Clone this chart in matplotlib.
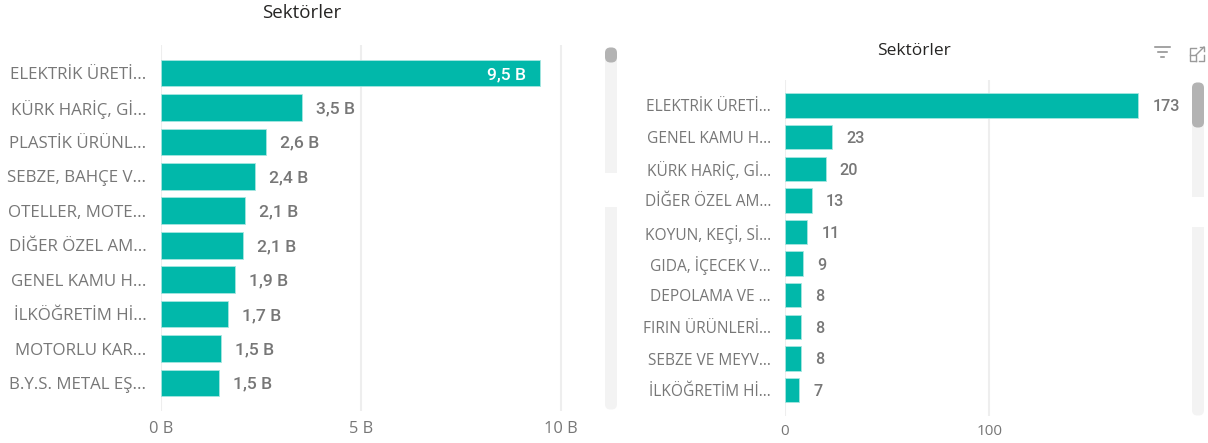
import matplotlib
matplotlib.use('Agg')
import matplotlib.pyplot as plt
from matplotlib.patches import FancyBboxPatch, Rectangle

W, H = 1208, 443
TEAL = '#01b8aa'
GRID = '#eeeeee'
TEXT = '#777777'

left_categories = ['ELEKTRİK ÜRETİ...', 'KÜRK HARİÇ, Gİ...', 'PLASTİK ÜRÜNL...', 'SEBZE, BAHÇE V...',
                   'OTELLER, MOTE...', 'DİĞER ÖZEL AM...', 'GENEL KAMU H...', 'İLKÖĞRETİM Hİ...',
                   'MOTORLU KAR...', 'B.Y.S. METAL EŞ...']
left_values = [9.47, 3.52, 2.63, 2.36, 2.10, 2.06, 1.85, 1.68, 1.51, 1.46]
left_labels = ['9,5 B', '3,5 B', '2,6 B', '2,4 B', '2,1 B', '2,1 B', '1,9 B', '1,7 B', '1,5 B', '1,5 B']
left_ticks = [0, 5, 10]
left_ticklabels = ['0 B', '5 B', '10 B']

right_categories = ['ELEKTRİK ÜRETİ...', 'GENEL KAMU H...', 'KÜRK HARİÇ, Gİ...', 'DİĞER ÖZEL AM...',
                    'KOYUN, KEÇİ, Sİ...', 'GIDA, İÇECEK V...', 'DEPOLAMA VE ...', 'FIRIN ÜRÜNLERİ...',
                    'SEBZE VE MEYV...', 'İLKÖĞRETİM Hİ...']
right_values = [173, 23, 20, 13, 11, 9, 8, 8, 8, 7]
right_ticks = [0, 100]
right_ticklabels = ['0', '100']


def axes_px(fig, x0, y0, x1, y1):
    # pixel box measured from the top left corner
    return fig.add_axes([x0 / W, 1 - y1 / H, (x1 - x0) / W, (y1 - y0) / H])


def bar_panel(ax, categories, values, labels, ticks, ticklabels, xlim, ylim, height,
              cat_size, tick_size, val_size, ypad, xpad, inside=()):
    y = list(range(len(values)))
    ax.barh(y, values, height=height, color=TEAL, edgecolor='#a6e6e0', linewidth=0.6, zorder=3)
    ax.set_xlim(*xlim)
    ax.set_ylim(*ylim)
    ax.set_yticks(y)
    ax.set_yticklabels(categories, fontsize=cat_size, color=TEXT)
    ax.set_xticks(ticks)
    ax.set_xticklabels(ticklabels, fontsize=tick_size, color=TEXT)
    ax.tick_params(axis='both', length=0)
    ax.tick_params(axis='y', pad=ypad)
    ax.tick_params(axis='x', pad=xpad)
    ax.grid(True, axis='x', color=GRID, linewidth=1.5, zorder=0)
    ax.set_axisbelow(True)
    for s in ax.spines.values():
        s.set_visible(False)
    for i, (v, lab) in enumerate(zip(values, labels)):
        if i in inside:
            ax.annotate(lab, (v, i), xytext=(-10, -1), textcoords='offset points', ha='right', va='center',
                        color='white', fontsize=val_size, fontweight='medium', family='Roboto')
        else:
            ax.annotate(lab, (v, i), xytext=(10, -1), textcoords='offset points', ha='left', va='center',
                        color=TEXT, fontsize=val_size, fontweight='medium', family='Roboto')


def pill(over, x0, x1, y0, y1, color):
    r = (x1 - x0) / 2
    over.add_patch(FancyBboxPatch((x0 + r - 0.5, y0 + r), 1, y1 - y0 - 2 * r,
                                  boxstyle=f'round,pad={r - 0.5},rounding_size={r - 0.5}', fc=color, ec='none'))


def scrollbar(over, x0, x1, y0, y1, thumb_y1, gap_y0, gap_y1):
    pill(over, x0, x1, y0, y1, '#f3f3f3')
    over.add_patch(Rectangle((x0, gap_y0), x1 - x0, gap_y1 - gap_y0, fc='white', ec='none'))
    pill(over, x0, x1, y0, thumb_y1, '#b3b3b3')


plt.rcParams['font.family'] = ['Open Sans', 'DejaVu Sans']
fig = plt.figure(figsize=(W / 100, H / 100), dpi=100, facecolor='white')

ax1 = axes_px(fig, 161, 45, 618, 411)
bar_panel(ax1, left_categories, left_values, left_labels, left_ticks, left_ticklabels,
          (0, 457 / 40), (9.813, -0.813), 0.772, 12.2, 11.8, 12.6, 10.5, 7, inside=(0,))

ax2 = axes_px(fig, 785, 80, 1190, 416)
bar_panel(ax2, right_categories, right_values, [str(v) for v in right_values], right_ticks, right_ticklabels,
          (0, 405 / 2.043), (9.816, -0.806), 0.771, 11.2, 11, 11.6, 10, 6)

# titles, scrollbars and visual header icons, in pixel coordinates
over = fig.add_axes([0, 0, 1, 1], zorder=5)
over.set_xlim(0, W)
over.set_ylim(H, 0)
over.axis('off')
over.patch.set_alpha(0)

over.text(302, 12.5, 'Sektörler', ha='center', va='center', fontsize=13.5, color='#252423')
over.text(914, 51, 'Sektörler', ha='center', va='center', fontsize=12.5, color='#252423')

scrollbar(over, 605, 617, 47, 410, 63, 173, 207)
scrollbar(over, 1192, 1204, 82, 416, 128, 197, 227)

# filter icon
for x0, x1, y in [(1155, 1170, 47), (1158, 1167, 52), (1161, 1164, 57)]:
    over.plot([x0, x1], [y, y], color='#8a8a8a', lw=1.1)
# focus mode icon
over.plot([1196, 1190, 1190, 1196], [48, 48, 61, 61], color='#9a9a9a', lw=1)
over.plot([1199, 1204, 1204], [61, 61, 55], color='#9a9a9a', lw=1)
over.plot([1196, 1196, 1190], [61, 55, 55], color='#9a9a9a', lw=1)
over.plot([1196, 1204], [55, 47], color='#9a9a9a', lw=1)
over.plot([1200, 1204, 1204], [47, 47, 51], color='#9a9a9a', lw=1)

fig.savefig('out.png', dpi=100, facecolor='white')
